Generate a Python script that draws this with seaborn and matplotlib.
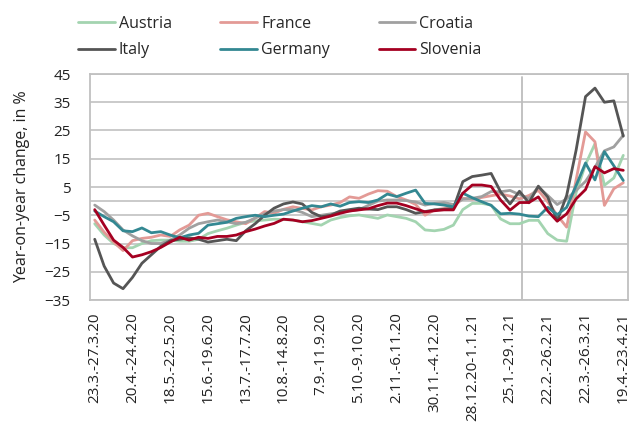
import numpy as np
import pandas as pd
import matplotlib
matplotlib.use("Agg")
import matplotlib.pyplot as plt
import seaborn as sns

week_labels = [
    "23.3.-27.3.20", "20.4.-24.4.20", "18.5.-22.5.20", "15.6.-19.6.20",
    "13.7.-17.7.20", "10.8.-14.8.20", "7.9.-11.9.20", "5.10.-9.10.20",
    "2.11.-6.11.20", "30.11.-4.12.20", "28.12.20-1.1.21", "25.1.-29.1.21",
    "22.2.-26.2.21", "22.3.-26.3.21", "19.4.-23.4.21",
]

austria = [-8, -12, -15, -16.5, -16.5, -15, -14, -13.8, -13.8, -14.2,
           -14.2, -13.5, -11.5, -10.5, -9.6, -8.5, -7.5, -7, -6.7, -6.4,
           -6.5, -6.7, -7.3, -7.9, -8.5, -6.7, -5.8, -5.2, -4.9, -5.5,
           -6.1, -4.9, -5.5, -6.1, -7.3, -10.2, -10.5, -10, -8.5, -3,
           -0.8, -0.8, -1.4, -6.3, -8, -8, -6.8, -6.8, -11.5, -13.8,
           -14.2, 3, 13, 20.3, 5.6, 8.2, 16.2]
france = [-6.7, -11, -14.5, -17.5, -14, -13.2, -12.8, -12, -12.5, -10.2,
          -8.5, -5, -4.3, -5.5, -6.6, -7.3, -8, -6, -3.7, -4.3,
          -2.9, -2, -2.6, -3.1, -2, -1.4, -0.5, 1.5, 1, 2.5,
          3.7, 3.5, 1.6, 0.4, -1.2, -5, -3.1, -2.6, -2, 1,
          0.7, 1.3, 1.9, 2.5, 1.8, 0.8, 2, 3.8, -0.3, -5,
          -9.2, 7.5, 24.5, 21, -1.5, 4.4, 6.5]
croatia = [-1.4, -3.7, -6.7, -10.2, -12.3, -14, -15, -15, -13.8, -12,
           -9.6, -8, -7.3, -6.7, -7.3, -8, -7.5, -6, -4.5, -3.5,
           -3, -3, -4, -5.5, -5, -4.5, -4, -3.5, -3, -1.5,
           0, 0.4, 0.4, 0.2, -0.3, -1.4, -0.8, -0.5, -1.2, 0.7,
           1, 1.6, 3.4, 3.3, 3.8, 2.3, 0.9, 5, 2, -1.2,
           0.8, 3.8, 7, 12, 17.8, 19.2, 23.3]
italy = [-13.5, -23, -29, -31, -27, -22, -19, -16, -14, -13.5,
         -13, -13.5, -14.5, -14, -13.5, -14, -10.5, -8, -5, -2.5,
         -1, -0.3, -1, -4, -5.5, -5, -3.5, -3, -2.5, -2.8,
         -3, -2, -2, -3, -4.3, -3.7, -3.1, -2.9, -2.6, 6.9,
         8.7, 9.2, 9.8, 3.3, -1, 3.5, -0.6, 5.3, 1.4, -7,
         2, 18, 37, 40, 35, 35.5, 23]
germany = [-3.5, -5.5, -7.3, -10.5, -10.8, -9.5, -11.2, -10.8, -12, -13,
           -12, -11.4, -8.5, -8, -7.5, -6.1, -5.5, -5, -5.5, -5,
           -4.6, -3.5, -2.5, -1.6, -2, -1, -1.8, -0.5, -0.2, -0.5,
           0.4, 2.5, 1.6, 2.8, 3.9, -0.8, -1, -1.4, -2, 2.8,
           1.2, -0.2, -1.5, -4.5, -4.3, -4.6, -5.3, -5.5, -2.2, -4.8,
           -2.2, 5.5, 13.5, 7.5, 17.5, 12.5, 7.3]
slovenia = [-3, -8.5, -13.8, -16.4, -19.8, -19, -17.9, -16.4, -14.5, -12.8,
            -13.8, -12.8, -13.2, -12.5, -12.5, -12, -10.8, -9.9, -8.8, -7.9,
            -6.4, -6.7, -7.3, -6.9, -6.1, -5.3, -4.3, -3.5, -3.1, -2.7,
            -1.6, -0.7, -0.7, -1.6, -2.7, -3.8, -3.4, -3.1, -3.1, 2.8,
            5.7, 5.7, 5.2, 0.4, -3.2, -0.5, -0.5, 1.5, -3.5, -7.1,
            -4.5, 0.8, 4.1, 12.2, 10, 11.5, 10.9]

countries = ["Austria", "France", "Croatia", "Italy", "Germany", "Slovenia"]
colors = ["#a3d4b0", "#e39a96", "#a0a0a0", "#555555", "#338892", "#a50021"]
series = [austria, france, croatia, italy, germany, slovenia]

rows = []
for name, vals in zip(countries, series):
    for i, v in enumerate(vals):
        rows.append({"week": i, "value": v, "country": name})
df = pd.DataFrame(rows)

sns.set_theme(style="white")
plt.rcParams["font.family"] = ["Open Sans", "DejaVu Sans"]

fig = plt.figure(figsize=(6.31, 4.23), dpi=100)
ax = fig.add_axes([90 / 631, 1 - 300 / 423, 538 / 631, 226 / 423])

grid_c = "#c6c6c6"
for y in [-35, -25, -15, -5, 0, 5, 15, 25, 35, 45]:
    ax.axhline(y, color=grid_c, lw=1.3, zorder=0)
# break between the two periods
ax.axvline(45.25, ymax=0.985, color="#bdbdbd", lw=1.3, zorder=0)

sns.lineplot(data=df, x="week", y="value", hue="country",
             hue_order=countries, palette=colors, linewidth=2.0, ax=ax)

ax.set_xlim(-0.5, 56.5)
ax.set_ylim(-35, 45)
ax.set_yticks(range(-35, 46, 10))
ax.set_xticks(range(0, 57, 4))
ax.set_xticklabels(week_labels, rotation=90, fontsize=11, color="#222222")
ax.tick_params(axis="y", labelsize=11, length=0, pad=14, labelcolor="#222222")
ax.tick_params(axis="x", length=0, pad=9)
ax.set_xlabel("")
ax.set_ylabel("Year-on-year change, in %", fontsize=11.5, color="#222222", labelpad=10)

for s in ax.spines.values():
    s.set_color("#c0c0c0")
    s.set_linewidth(1.3)

handles, labels = ax.get_legend_handles_labels()
ax.get_legend().remove()
order = [0, 3, 1, 4, 2, 5]
fig.legend([handles[k] for k in order], [labels[k] for k in order],
           ncol=3, loc="upper left", bbox_to_anchor=(70 / 631, 1 - 8 / 423),
           frameon=False, fontsize=11.5, handlelength=2.3, handletextpad=0.25,
           columnspacing=3.05, borderpad=0, labelspacing=0.65)

fig.savefig("out.png", dpi=100)
